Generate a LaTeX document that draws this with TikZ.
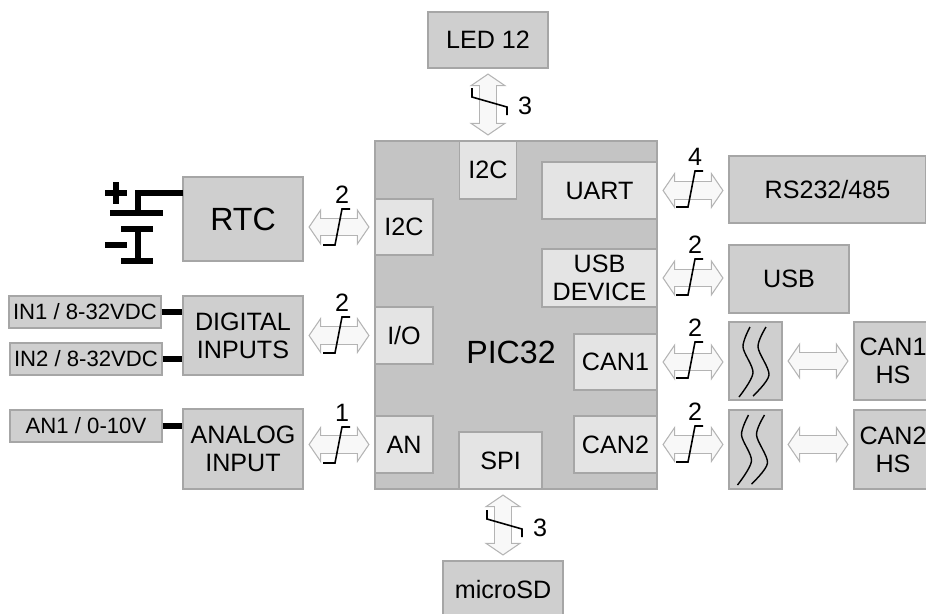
\documentclass[tikz,border=0pt]{standalone}
\usepackage{fontspec}
\setmainfont{Liberation Sans}
\usetikzlibrary{arrows.meta}
\definecolor{boxgrey}{HTML}{CFCFCF}
\definecolor{chipgrey}{HTML}{C4C4C4}
\definecolor{portgrey}{HTML}{E4E4E4}
\definecolor{edgegrey}{HTML}{A6A6A6}
\definecolor{busgrey}{HTML}{B4B4B4}
\definecolor{busfill}{HTML}{F8F8F8}
\tikzset{
  boxsize/.style 2 args={minimum width=#1*0.02cm, minimum height=#2*0.02cm},
  plainbox/.style={draw=edgegrey, line width=0.6pt, fill=boxgrey, inner sep=0pt, align=center,
    font=\fontsize{14.3}{16}\selectfont},
  portbox/.style={plainbox, fill=portgrey},
  inputbox/.style={plainbox, font=\fontsize{12.6}{14}\selectfont},
  bigtext/.style={font=\fontsize{18.3}{20}\selectfont},
  wire/.style={line width=3.6pt, line cap=butt},
  tickmark/.style={line width=0.9pt},
  swirl/.style={line width=0.8pt},
  bushead/.tip={Triangle[length=7.2pt, width=21pt, line width=0.6pt, color=busgrey, fill=busfill]},
  bus/.style={draw=busgrey, line width=10.8pt, bushead-bushead, shorten <=2.8pt, shorten >=2.8pt,
    postaction={draw=busfill, -, line width=9.6pt, shorten <=9.2pt, shorten >=9.2pt}},
}
\begin{document}
\begin{tikzpicture}[x=0.02cm, y=-0.02cm]
  \useasboundingbox (0,0) rectangle (926,613);
  % chip and its ports
  \node[plainbox, fill=chipgrey, boxsize={282}{348}] (pic) at (516,315) {};
  \node[bigtext, inner sep=0pt] (piclabel) at (511,352) {PIC32};
  \node[portbox, boxsize={57}{58}] (i2ctop) at (488,170) {I2C};
  \node[portbox, boxsize={115}{57}] (uart) at (599.5,190.5) {UART};
  \node[portbox, boxsize={115}{58}] (usbdev) at (599.5,278) {USB\\DEVICE};
  \node[portbox, boxsize={83}{56}] (can1) at (615.5,362) {CAN1};
  \node[portbox, boxsize={83}{57}] (can2) at (615.5,444.5) {CAN2};
  \node[portbox, boxsize={83}{57}] (spi) at (500.5,460.5) {SPI};
  \node[portbox, boxsize={58}{56}] (i2cleft) at (404,227) {I2C};
  \node[portbox, boxsize={58}{57}] (io) at (404,335.5) {I/O};
  \node[portbox, boxsize={58}{57}] (an) at (404,444.5) {AN};
  % outer boxes
  \node[plainbox, boxsize={120}{56}] (led) at (488,40) {LED 12};
  \node[plainbox, boxsize={120}{57}] (sd) at (503,589.5) {microSD};
  \node[plainbox, bigtext, boxsize={120}{84}] (rtc) at (243,219) {RTC};
  \node[plainbox, boxsize={120}{79}] (digital) at (243,335.5) {DIGITAL\\INPUTS};
  \node[plainbox, boxsize={120}{80}] (analog) at (243,449) {ANALOG\\INPUT};
  \node[inputbox, boxsize={152}{32}] (in1) at (85,312) {IN1 / 8-32VDC};
  \node[inputbox, boxsize={152}{32}] (in2) at (86,359) {IN2 / 8-32VDC};
  \node[inputbox, boxsize={152}{32}] (an1) at (86,426) {AN1 / 0-10V};
  \node[plainbox, boxsize={197}{67}] (rs) at (827.5,189.5) {RS232/485};
  \node[plainbox, boxsize={120}{68}] (usb) at (789,279) {USB};
  \node[plainbox, boxsize={53}{78}] (iso1) at (755.5,361) {};
  \node[plainbox, boxsize={53}{79}] (iso2) at (755.5,449.5) {};
  \node[plainbox, boxsize={78}{78}] (hs1) at (893,361) {CAN1\\HS};
  \node[plainbox, boxsize={78}{79}] (hs2) at (893,449.5) {CAN2\\HS};
  % buses
  \draw[bus] (rtc.east |- i2cleft.west) -- (i2cleft.west);
  \draw[bus] (digital.east |- io.west) -- (io.west);
  \draw[bus] (analog.east |- an.west) -- (an.west);
  \draw[bus] (uart.east) -- (uart.east -| rs.west);
  \draw[bus] (usbdev.east) -- (usbdev.east -| usb.west);
  \draw[bus] (can1.east) -- (can1.east -| iso1.west);
  \draw[bus] (can2.east) -- (can2.east -| iso2.west);
  \draw[bus] (iso1.east) -- (iso1.east -| hs1.west);
  \draw[bus] (iso2.east |- can2.east) -- (can2.east -| hs2.west);
  \draw[bus] (led.south) -- (led.south |- i2ctop.north);
  \draw[bus] (sd.north) -- (sd.north |- spi.south);
  % bus widths
  \foreach \x/\y/\n [count=\i] in {340/228/2, 340/336/2, 340/446/1, 693/190/4, 693/278/2, 693/361/2, 693/445/2} {
    \draw[tickmark] (\x-17,\y+17) -- (\x-5,\y+17) -- (\x+2,\y-19) -- (\x+10,\y-19);
    \node[font=\fontsize{14.3}{16}\selectfont, inner sep=0pt] (width\i) at (\x+2,\y-33) {\n};
  }
  \foreach \x/\y/\n [count=\i] in {488/105/3, 503/527/3} {
    \draw[tickmark] (\x-16,\y-17) -- (\x-16,\y-8) -- (\x+19,\y+2) -- (\x+19,\y+10);
    \node[font=\fontsize{14.3}{16}\selectfont, inner sep=0pt] (depth\i) at (\x+37,\y+1) {\n};
  }
  % isolation
  \foreach \dx/\y in {0/0,-1.5/88} {
    \draw[swirl] plot[smooth] coordinates {(750+\dx,327+\y) (743+\dx,347+\y) (753+\dx,373+\y) (739+\dx,397+\y)};
    \draw[swirl] plot[smooth] coordinates {(766+\dx,327+\y) (758+\dx,347+\y) (769+\dx,375+\y) (753+\dx,396+\y)};
  }
  % inputs
  \draw[wire] (in1.east) -- (in1.east -| digital.west);
  \draw[wire] (in2.east) -- (in2.east -| digital.west);
  \draw[wire] (an1.east) -- (an1.east -| analog.west);
  % battery
  \coordinate (cellplus) at (138,213);
  \coordinate (rtcpin) at (183,193);
  \draw[wire] (rtcpin) -- (cellplus |- rtcpin) -- (cellplus);
  \draw[wire] (110,213) -- (163,213);
  \draw[wire] (121,229) -- (153,229);
  \draw[wire] (138,229) -- (138,261);
  \draw[wire] (121,261) -- (153,261);
  \draw[wire] (105,193) -- (127,193);
  \draw[wire] (116,182) -- (116,204);
  \draw[wire] (105,245) -- (127,245);
\end{tikzpicture}
\end{document}
